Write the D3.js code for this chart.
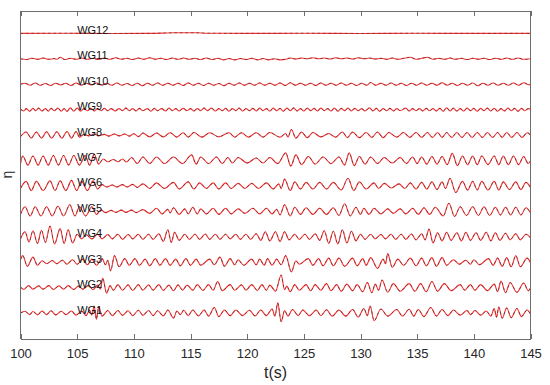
<!DOCTYPE html>
<html>
<head>
<meta charset="utf-8">
<script src="https://cdn.jsdelivr.net/npm/d3@7"></script>
<style>
  body { margin: 0; background: #fff; }
  text { font-family: "Liberation Sans", Arial, Helvetica, sans-serif; }
  .axis .domain, .axis line { stroke: #6e6e6e; shape-rendering: crispEdges; }
  .axis text { fill: #262626; font-size: 13px; }
</style>
</head>
<body>
<script>
// wave gauge records, [t (s), eta (cm)] at the crests and troughs
var gauges = ["WG1","WG2","WG3","WG4","WG5","WG6","WG7","WG8","WG9","WG10","WG11","WG12"];
var xTicks = [100,105,110,115,120,125,130,135,140,145];
var spacing = 5; // vertical offset between gauges (cm)

var wg1 = [[100.0,0.0],[100.4,0.35],[100.8,-0.3],[101.1,0.3],[101.5,-0.35],[101.9,0.4],[102.3,-0.3],[102.7,0.45],[103.1,-0.35],[103.6,0.35],[104.0,-0.3],[104.5,0.4],[104.9,-0.4],[105.4,0.35],[105.8,-0.5],[106.1,0.6],[106.3,-0.4],[106.5,1.4],[106.7,-1.2],[106.9,1.3],[107.2,-0.6],[107.7,0.5],[108.1,-0.5],[108.6,0.5],[109.0,-0.45],[109.5,0.45],[109.9,-0.5],[110.4,0.55],[110.8,-0.45],[111.3,0.5],[111.7,-0.5],[112.1,0.45],[112.6,-0.55],[113.0,0.6],[113.5,-1.0],[113.8,0.4],[114.1,-0.3],[114.4,0.55],[114.8,-0.5],[115.2,0.6],[115.7,-0.55],[116.2,0.6],[116.6,-0.6],[117.1,1.1],[117.5,-0.7],[118.0,0.6],[118.5,-0.5],[119.0,0.6],[119.6,-0.5],[120.2,0.55],[120.7,-0.55],[121.2,0.6],[121.7,-0.5],[122.2,0.8],[122.45,-0.6],[122.7,2.0],[123.0,-1.7],[123.3,0.5],[123.6,-0.6],[124.0,0.7],[124.5,-0.5],[124.9,0.6],[125.5,-0.5],[126.1,0.6],[126.5,-0.5],[127.0,0.65],[127.5,-0.6],[128.1,0.6],[128.7,-0.6],[129.3,0.7],[129.8,-0.8],[130.3,0.9],[130.6,-0.5],[130.85,1.4],[131.2,-1.5],[131.8,0.8],[132.4,-0.6],[133.2,0.7],[133.7,-0.6],[134.3,0.75],[134.7,-0.6],[135.1,0.7],[135.6,-0.7],[136.2,1.1],[136.7,-0.6],[137.2,0.7],[137.7,-0.5],[138.2,0.6],[138.8,-0.4],[139.4,0.5],[139.7,-0.3],[140.1,0.5],[140.6,-0.4],[141.1,0.4],[141.5,-0.6],[141.8,0.9],[142.0,-0.8],[142.2,1.2],[142.5,-1.0],[142.9,1.0],[143.3,-0.9],[143.8,0.9],[144.2,-0.7],[144.7,0.6],[145.0,-0.2]];

var wg2 = [[100.0,0.1],[100.3,-0.35],[100.7,0.4],[101.1,-0.3],[101.6,0.35],[102.0,-0.3],[102.5,0.4],[102.9,-0.35],[103.4,0.35],[103.8,-0.3],[104.2,0.4],[104.7,-0.35],[105.1,0.3],[105.5,-0.3],[106.0,0.45],[106.4,-0.4],[106.8,0.5],[107.05,-0.3],[107.25,1.9],[107.6,-1.1],[107.9,0.4],[108.2,-0.5],[108.6,0.6],[109.0,-0.5],[109.5,0.55],[109.9,-0.55],[110.4,0.6],[110.8,-0.5],[111.3,0.55],[111.7,-0.5],[112.2,0.6],[112.6,-0.55],[113.1,0.5],[113.5,-0.6],[113.9,0.55],[114.3,-0.5],[114.7,0.5],[115.2,-0.5],[115.6,0.6],[116.1,-0.55],[116.6,0.6],[117.0,-0.5],[117.4,1.2],[117.8,-0.6],[118.5,0.6],[118.9,-0.5],[119.5,0.55],[119.9,-0.5],[120.4,0.6],[120.9,-0.55],[121.3,0.6],[121.7,-0.5],[122.0,0.5],[122.5,-0.7],[123.0,2.5],[123.3,-0.4],[123.5,0.3],[123.8,-0.8],[124.2,0.6],[124.6,-0.5],[125.2,0.6],[125.6,-0.6],[126.0,0.6],[126.5,-0.5],[127.0,0.8],[127.4,-0.6],[127.9,0.6],[128.3,-0.7],[128.8,0.7],[129.3,-0.6],[129.7,0.6],[130.2,-0.8],[130.6,1.0],[131.0,-1.0],[131.3,0.7],[131.6,-0.5],[131.9,1.5],[132.4,-0.9],[132.9,0.8],[133.5,-0.7],[134.3,0.8],[134.8,-0.7],[135.3,0.8],[135.8,-0.8],[136.3,1.2],[136.8,-0.7],[137.4,0.8],[138.0,-0.6],[138.8,0.6],[139.2,-0.5],[139.7,0.6],[140.1,-0.5],[140.6,0.6],[141.2,-0.6],[141.8,0.7],[142.1,-0.8],[142.4,1.3],[142.8,-1.0],[143.2,1.0],[143.8,-0.9],[144.4,0.9],[144.8,-0.6],[145.0,0.0]];

var wg3 = [[100.0,0.5],[100.2,1.3],[100.6,-0.8],[101.1,1.0],[101.5,-0.6],[101.9,0.3],[102.3,-0.3],[102.8,0.35],[103.2,-0.3],[103.7,0.4],[104.1,-0.4],[104.6,0.5],[105.0,-0.4],[105.5,0.6],[105.9,-0.5],[106.3,0.6],[106.7,-0.6],[107.2,0.7],[107.5,-0.5],[107.7,0.4],[107.95,-1.7],[108.3,1.3],[108.7,-0.9],[109.2,0.7],[109.6,-0.6],[110.1,0.7],[110.5,-0.6],[111.0,0.6],[111.4,-0.7],[111.9,0.7],[112.3,-0.6],[112.8,0.7],[113.2,-0.6],[113.7,0.6],[114.1,-0.7],[114.6,0.7],[115.0,-0.6],[115.5,0.6],[115.9,-0.6],[116.7,0.6],[117.1,-0.5],[117.6,1.0],[118.0,-0.8],[118.5,0.7],[118.9,-0.5],[119.2,0.5],[119.7,-0.6],[120.4,0.6],[120.8,-0.5],[121.1,0.6],[121.5,-0.6],[121.8,0.7],[122.2,-0.6],[122.6,0.6],[123.0,-0.5],[123.4,1.3],[123.9,-1.9],[124.3,0.3],[124.6,-0.4],[125.4,0.7],[125.8,-0.6],[126.3,0.7],[126.7,-0.7],[127.2,0.8],[127.6,-0.7],[128.1,0.8],[128.6,-0.8],[129.3,0.8],[129.7,-0.7],[130.2,0.7],[130.5,-0.6],[130.9,0.9],[131.5,-1.2],[132.0,0.6],[132.2,-0.3],[132.4,1.7],[132.8,-1.0],[133.3,0.6],[133.8,-0.6],[134.4,0.8],[134.9,-0.7],[135.4,0.8],[135.8,-0.7],[136.3,0.9],[136.7,-0.8],[137.2,0.9],[137.6,-0.6],[138.2,0.5],[138.7,-0.4],[139.3,0.4],[139.7,-0.4],[140.0,0.5],[140.5,-0.5],[141.3,0.7],[141.7,-0.6],[142.1,0.8],[142.5,-0.8],[142.9,0.9],[143.3,-0.9],[143.7,1.3],[144.1,-0.9],[144.7,0.8],[145.0,-0.1]];

var wg4 = [[100.0,-0.4],[100.4,1.0],[100.75,-1.0],[101.1,1.2],[101.5,-1.3],[101.85,1.3],[102.2,-1.1],[102.6,2.1],[103.0,-1.4],[103.5,1.6],[103.85,-1.3],[104.2,1.4],[104.6,-1.2],[105.0,0.5],[105.4,-0.4],[105.8,0.4],[106.3,-0.4],[106.8,0.5],[107.2,-0.4],[107.7,0.45],[108.1,-0.4],[108.6,0.5],[109.0,-0.5],[109.5,0.45],[109.9,-0.4],[110.4,0.5],[110.8,-0.5],[111.3,0.5],[111.7,-0.5],[112.2,0.6],[112.6,-0.9],[113.0,1.4],[113.3,-1.1],[113.6,0.9],[114.0,-0.7],[114.5,0.5],[114.9,-0.5],[115.4,0.5],[115.8,-0.5],[116.3,0.55],[116.7,-0.5],[117.2,0.5],[117.6,-0.5],[118.1,0.5],[118.5,-0.4],[119.0,0.5],[119.4,-0.5],[119.9,0.5],[120.3,-0.5],[120.8,0.6],[121.2,-0.7],[121.6,1.0],[122.0,-0.8],[122.5,1.0],[122.9,-0.9],[123.3,1.0],[123.7,-0.6],[124.2,0.5],[124.6,-0.5],[125.1,0.5],[125.5,-0.5],[126.0,0.6],[126.4,-0.7],[126.8,1.2],[127.2,-1.3],[127.6,1.1],[128.0,-1.4],[128.4,1.4],[128.8,-1.2],[129.2,1.1],[129.6,-0.8],[130.0,0.5],[130.4,-0.5],[130.9,0.5],[131.3,-0.4],[131.8,0.45],[132.2,-0.4],[132.7,0.5],[133.1,-0.5],[133.6,0.5],[134.0,-0.5],[134.5,0.55],[134.9,-0.6],[135.4,0.6],[135.7,-0.6],[136.05,1.5],[136.4,-1.2],[136.8,0.8],[137.2,-0.8],[137.6,0.9],[138.0,-0.7],[138.5,0.8],[138.9,-0.8],[139.3,0.9],[139.7,-0.7],[140.2,0.8],[140.6,-0.7],[141.1,0.9],[141.5,-0.8],[141.9,0.8],[142.3,-0.7],[142.8,0.7],[143.2,-0.6],[143.7,0.6],[144.1,-0.6],[144.6,0.5],[145.0,-0.2]];

var wg5 = [[100.0,-0.6],[100.4,0.9],[100.85,-0.9],[101.3,0.9],[101.8,-0.9],[102.3,0.9],[102.8,-0.9],[103.3,1.0],[103.8,-0.9],[104.35,1.3],[104.8,-0.9],[105.2,0.9],[105.75,-0.9],[106.3,0.9],[106.7,-0.6],[107.1,0.3],[107.5,-0.25],[108.0,0.2],[108.4,-0.2],[108.9,0.25],[109.3,-0.2],[109.8,0.25],[110.2,-0.25],[110.8,0.35],[111.4,-0.4],[112.0,0.6],[112.5,-0.5],[113.0,0.4],[113.2,-0.3],[113.5,0.7],[114.0,-0.6],[114.5,0.5],[114.8,-0.5],[115.2,0.8],[115.6,-0.5],[115.9,0.5],[116.4,-0.5],[117.0,0.6],[117.5,-0.6],[118.1,0.6],[118.6,-0.5],[119.2,0.5],[119.8,-0.4],[120.5,0.6],[121.1,-0.5],[121.7,0.6],[122.2,-0.5],[122.6,0.4],[122.9,-0.7],[123.3,1.3],[123.8,-0.9],[124.2,0.8],[124.7,-0.6],[125.2,0.7],[125.8,-0.6],[126.4,0.6],[127.0,-0.6],[127.6,0.7],[128.1,-0.8],[128.6,1.5],[129.1,-0.9],[129.6,0.8],[130.0,-0.6],[130.3,0.6],[130.75,-0.6],[131.2,0.6],[131.8,-0.5],[132.4,0.5],[132.9,-0.4],[133.5,0.5],[134.0,-0.5],[134.6,0.6],[135.1,-0.6],[135.6,0.7],[136.1,-0.6],[136.6,0.8],[137.3,-0.9],[137.8,1.6],[138.3,-1.0],[138.8,0.9],[139.35,-0.8],[139.9,0.9],[140.4,-0.8],[140.9,0.9],[141.4,-0.8],[141.9,0.8],[142.35,-0.7],[142.8,0.8],[143.25,-0.7],[143.7,0.8],[144.15,-0.7],[144.6,0.7],[145.0,-0.3]];

var wg6 = [[100.0,-0.5],[100.5,0.9],[100.95,-0.9],[101.4,0.9],[102.0,-0.9],[102.6,1.0],[103.05,-0.9],[103.5,1.0],[104.0,-0.9],[104.5,1.1],[104.95,-0.9],[105.4,0.9],[105.9,-0.9],[106.4,1.0],[106.8,-0.6],[107.2,0.25],[107.6,-0.2],[108.1,0.2],[108.5,-0.2],[109.0,0.25],[109.4,-0.2],[109.9,0.3],[110.3,-0.3],[110.8,0.4],[111.4,-0.5],[112.0,0.6],[112.7,-0.5],[113.5,0.7],[114.0,-0.6],[114.8,0.8],[115.3,-0.6],[115.8,0.6],[116.4,-0.5],[117.0,0.6],[117.5,-0.6],[118.1,0.6],[118.6,-0.5],[119.2,0.5],[119.8,-0.5],[120.4,0.5],[121.0,-0.5],[121.7,0.6],[122.3,-0.6],[122.8,0.4],[123.0,-0.5],[123.3,1.35],[123.8,-0.9],[124.2,0.8],[124.7,-0.6],[125.2,0.7],[125.8,-0.6],[126.4,0.7],[127.0,-0.6],[127.6,0.7],[128.3,-0.8],[128.9,1.5],[129.4,-0.9],[129.9,0.8],[130.5,-0.6],[131.2,0.6],[131.6,-0.5],[132.1,0.5],[132.7,-0.4],[133.4,0.4],[133.9,-0.5],[134.4,0.6],[134.9,-0.6],[135.4,0.7],[135.85,-0.6],[136.3,0.8],[136.75,-0.7],[137.2,0.8],[137.5,-0.5],[137.9,1.5],[138.4,-1.3],[139.0,0.9],[139.45,-0.8],[139.9,0.9],[140.3,-0.8],[140.7,0.9],[141.25,-0.8],[141.8,0.9],[142.2,-0.8],[142.6,0.8],[143.15,-0.7],[143.7,0.8],[144.15,-0.7],[144.6,0.7],[145.0,-0.3]];

var wg7 = [[100.0,-0.6],[100.2,0.9],[100.65,-0.9],[101.1,0.9],[101.55,-0.9],[102.0,0.9],[102.45,-0.9],[102.9,1.0],[103.35,-0.9],[103.8,1.0],[104.25,-0.9],[104.7,1.0],[105.2,-0.9],[105.7,1.0],[106.1,-0.9],[106.5,1.2],[106.9,-0.7],[107.3,0.3],[107.7,-0.25],[108.2,0.2],[108.6,-0.25],[109.0,0.3],[109.35,-0.3],[109.8,0.6],[110.3,-0.6],[110.8,0.7],[111.4,-0.6],[112.0,0.7],[112.7,-0.6],[113.5,0.7],[114.3,-0.6],[115.1,1.1],[115.5,-0.7],[115.9,0.7],[116.6,-0.6],[117.3,0.7],[117.8,-0.6],[118.3,0.6],[118.7,-0.5],[119.2,0.6],[120.0,-0.5],[120.8,0.5],[121.4,-0.5],[122.0,0.6],[122.7,-0.6],[123.4,1.5],[123.85,-1.1],[124.3,1.1],[124.8,-0.8],[125.4,0.8],[126.0,-0.7],[126.7,0.7],[127.4,-0.6],[128.1,0.7],[128.6,-0.9],[129.0,1.5],[129.45,-1.0],[129.9,0.8],[130.4,-0.7],[130.9,0.7],[131.5,-0.6],[132.1,0.6],[132.8,-0.5],[133.5,0.6],[134.05,-0.6],[134.6,0.7],[135.0,-0.6],[135.4,0.7],[135.85,-0.7],[136.3,0.8],[136.75,-0.7],[137.2,0.8],[137.65,-0.8],[138.1,1.4],[138.55,-1.0],[139.0,0.9],[139.45,-0.8],[139.9,0.9],[140.3,-0.8],[140.7,0.9],[141.25,-0.8],[141.8,0.9],[142.2,-0.8],[142.6,0.9],[143.05,-0.8],[143.5,0.9],[143.95,-0.8],[144.4,0.8],[144.8,-0.6],[145.0,-0.1]];

var wg8 = [[100.0,-0.3],[100.5,0.6],[100.95,-0.6],[101.4,0.6],[101.85,-0.6],[102.3,0.65],[102.75,-0.6],[103.2,0.65],[103.65,-0.6],[104.1,0.7],[104.5,-0.6],[104.9,0.7],[105.2,-0.4],[105.6,0.15],[106.0,-0.15],[106.5,0.2],[106.9,-0.15],[107.4,0.15],[107.8,-0.2],[108.3,0.2],[108.7,-0.15],[109.2,0.2],[109.6,-0.2],[110.0,0.25],[110.4,-0.3],[110.8,0.4],[111.4,-0.35],[112.0,0.4],[112.6,-0.35],[113.2,0.45],[113.8,-0.4],[114.35,0.45],[114.8,-0.4],[115.3,0.5],[116.0,-0.4],[116.7,0.45],[117.5,-0.35],[118.4,0.45],[118.9,-0.4],[119.5,0.45],[120.1,-0.4],[120.8,0.45],[121.4,-0.4],[122.0,0.5],[122.9,-0.4],[123.4,0.3],[123.6,-0.4],[123.9,1.1],[124.3,-0.6],[124.8,0.6],[125.3,-0.5],[125.8,0.5],[126.5,-0.35],[127.2,0.3],[127.8,-0.4],[128.4,0.6],[128.85,-0.5],[129.3,0.6],[129.9,-0.5],[130.5,0.5],[131.0,-0.45],[131.5,0.6],[132.0,-0.5],[132.5,0.5],[133.2,-0.4],[133.8,0.5],[134.35,-0.45],[134.9,0.5],[135.4,-0.45],[135.9,0.5],[136.35,-0.45],[136.8,0.5],[137.2,-0.45],[137.6,0.5],[138.05,-0.45],[138.5,0.5],[138.95,-0.45],[139.4,0.5],[139.85,-0.45],[140.3,0.5],[140.75,-0.45],[141.2,0.5],[141.65,-0.45],[142.1,0.5],[142.5,-0.45],[142.9,0.5],[143.35,-0.45],[143.8,0.5],[144.25,-0.45],[144.7,0.45],[145.0,0.0]];

var wg9 = [[100.0,0.1],[100.3,-0.25],[100.5,0.2],[100.8,-0.3],[101.1,0.25],[101.35,-0.2],[101.6,0.3],[101.9,-0.25],[102.2,0.2],[102.45,-0.3],[102.7,0.25],[103.0,-0.2],[103.3,0.3],[103.6,-0.3],[103.85,0.2],[104.1,-0.35],[104.4,0.35],[104.7,-0.3],[105.0,0.3],[105.3,-0.25],[105.6,0.2],[105.9,-0.2],[106.2,0.25],[106.5,-0.25],[106.8,0.2],[107.1,-0.2],[107.4,0.25],[107.7,-0.2],[108.0,0.2],[108.35,-0.25],[108.7,0.2],[109.0,-0.2],[109.3,0.3],[109.6,-0.2],[109.9,0.2],[110.2,-0.25],[110.5,0.25],[110.8,-0.2],[111.2,0.2],[111.5,-0.3],[111.8,0.25],[112.1,-0.2],[112.45,0.2],[112.8,-0.25],[113.1,0.3],[113.4,-0.2],[113.7,0.2],[114.0,-0.25],[114.35,0.25],[114.7,-0.2],[115.0,0.2],[115.3,-0.25],[115.6,0.2],[115.9,-0.2],[116.2,0.3],[116.5,-0.2],[116.85,0.3],[117.2,-0.25],[117.5,0.2],[117.8,-0.2],[118.1,0.25],[118.4,-0.3],[118.7,0.2],[119.0,-0.2],[119.3,0.3],[119.6,-0.25],[119.9,0.2],[120.2,-0.2],[120.5,0.25],[120.8,-0.25],[121.1,0.3],[121.4,-0.2],[121.7,0.2],[122.0,-0.25],[122.3,0.3],[122.6,-0.2],[122.9,0.25],[123.2,-0.3],[123.5,0.3],[123.8,-0.2],[124.1,0.35],[124.4,-0.25],[124.7,0.2],[125.0,-0.25],[125.3,0.3],[125.6,-0.2],[125.9,0.25],[126.2,-0.25],[126.5,0.3],[126.8,-0.2],[127.1,0.2],[127.4,-0.25],[127.7,0.3],[128.0,-0.3],[128.3,0.25],[128.6,-0.2],[128.9,0.3],[129.2,-0.25],[129.5,0.25],[129.8,-0.2],[130.1,0.2],[130.4,-0.25],[130.8,0.35],[131.1,-0.25],[131.4,0.25],[131.7,-0.3],[132.0,0.2],[132.3,-0.2],[132.6,0.25],[132.9,-0.25],[133.2,0.2],[133.5,-0.2],[134.0,0.3],[134.3,-0.25],[134.6,0.2],[134.9,-0.2],[135.2,0.2],[135.5,-0.25],[135.8,0.25],[136.1,-0.2],[136.4,0.2],[136.7,-0.25],[137.0,0.25],[137.3,-0.3],[137.6,0.35],[137.9,-0.25],[138.2,0.3],[138.5,-0.25],[138.8,0.2],[139.1,-0.25],[139.4,0.3],[139.7,-0.2],[140.0,0.25],[140.3,-0.3],[140.6,0.25],[140.9,-0.2],[141.2,0.3],[141.5,-0.25],[141.8,0.25],[142.1,-0.3],[142.4,0.2],[142.7,-0.25],[143.0,0.3],[143.3,-0.2],[143.6,0.25],[143.9,-0.3],[144.2,0.25],[144.5,-0.2],[144.8,0.2],[145.0,0.0]];

var wg10 = [[100.0,0.0],[100.4,0.2],[100.85,-0.2],[101.3,0.25],[101.75,-0.2],[102.2,0.15],[102.65,-0.25],[103.1,0.2],[103.55,-0.15],[104.0,0.2],[104.45,-0.25],[104.9,0.25],[105.35,-0.2],[105.8,0.2],[106.25,-0.15],[106.7,0.25],[107.15,-0.2],[107.6,0.2],[108.05,-0.2],[108.5,0.25],[108.95,-0.2],[109.4,0.15],[109.85,-0.25],[110.3,0.2],[110.75,-0.3],[111.2,0.2],[111.65,-0.2],[112.1,0.25],[112.55,-0.2],[113.0,0.2],[113.45,-0.2],[113.9,0.2],[114.35,-0.25],[114.8,0.25],[115.25,-0.2],[115.7,0.2],[116.15,-0.25],[116.6,0.2],[117.05,-0.2],[117.5,0.15],[117.95,-0.3],[118.4,0.2],[118.85,-0.2],[119.3,0.25],[119.75,-0.2],[120.2,0.2],[120.65,-0.2],[121.1,0.25],[121.55,-0.2],[122.0,0.2],[122.45,-0.2],[122.9,0.25],[123.35,-0.25],[123.8,0.3],[124.25,-0.2],[124.7,0.2],[125.15,-0.2],[125.6,0.2],[126.05,-0.25],[126.5,0.25],[126.95,-0.2],[127.4,0.2],[127.85,-0.2],[128.3,0.25],[128.75,-0.2],[129.2,0.2],[129.65,-0.25],[130.1,0.2],[130.55,-0.2],[130.9,0.35],[131.35,-0.2],[131.8,0.2],[132.25,-0.2],[132.7,0.25],[133.15,-0.2],[133.6,0.2],[134.05,-0.25],[134.5,0.2],[134.95,-0.2],[135.4,0.25],[135.85,-0.2],[136.3,0.2],[136.75,-0.2],[137.2,0.3],[137.65,-0.2],[138.1,0.2],[138.55,-0.25],[139.0,0.2],[139.45,-0.2],[139.9,0.25],[140.35,-0.3],[140.8,0.2],[141.25,-0.2],[141.7,0.25],[142.15,-0.2],[142.6,0.2],[143.05,-0.2],[143.5,0.25],[143.95,-0.2],[144.4,0.3],[144.85,-0.1],[145.0,0.0]];

var wg11 = [[100.0,0.0],[100.5,-0.15],[101.0,0.1],[101.5,-0.1],[102.0,0.15],[102.5,-0.1],[103.0,0.05],[103.2,-0.1],[103.5,0.3],[103.9,-0.15],[104.4,0.1],[104.9,-0.1],[105.4,0.15],[105.9,-0.1],[106.4,0.1],[106.9,-0.15],[107.4,0.15],[107.9,-0.1],[108.4,0.2],[108.9,-0.1],[109.4,0.1],[109.9,-0.15],[110.4,0.15],[110.9,-0.1],[111.4,0.2],[111.9,-0.1],[112.4,0.1],[112.9,-0.15],[113.4,0.15],[113.9,-0.1],[114.4,0.15],[114.9,-0.1],[115.4,0.1],[115.9,-0.15],[116.4,0.15],[116.9,-0.15],[117.4,0.1],[117.9,-0.2],[118.4,0.05],[118.9,-0.2],[119.4,0.05],[119.9,-0.15],[120.4,0.1],[120.9,-0.2],[121.4,0.05],[121.9,-0.2],[122.4,0.0],[122.9,-0.2],[123.4,-0.1],[123.8,0.15],[124.3,-0.05],[124.8,0.15],[125.3,0.0],[125.8,0.2],[126.3,0.0],[126.8,0.15],[127.3,-0.05],[127.8,0.2],[128.3,0.0],[128.8,0.15],[129.3,-0.05],[129.8,0.2],[130.3,0.0],[130.8,0.15],[131.3,-0.05],[131.8,0.1],[132.3,-0.1],[132.8,0.15],[133.3,-0.1],[133.8,0.1],[134.4,0.3],[134.9,-0.1],[135.4,0.1],[135.9,0.3],[136.4,-0.1],[136.9,0.1],[137.4,-0.1],[137.9,0.15],[138.4,-0.1],[138.9,0.1],[139.4,-0.15],[139.9,0.1],[140.4,-0.1],[140.9,0.1],[141.4,-0.15],[141.9,0.1],[142.4,-0.1],[142.9,0.15],[143.4,-0.1],[143.9,0.15],[144.4,-0.1],[145.0,0.0]];

var wg12 = [[100.0,0.0],[104.0,0.02],[108.0,-0.02],[111.0,0.0],[112.5,0.05],[113.5,0.12],[115.5,0.12],[116.5,0.03],[120.0,0.0],[125.0,0.02],[130.0,-0.01],[135.0,0.02],[140.0,0.0],[145.0,0.01]];

var records = [wg1, wg2, wg3, wg4, wg5, wg6, wg7, wg8, wg9, wg10, wg11, wg12];

var margin = {top: 10.5, right: 19.5, bottom: 46.5, left: 20.5},
    width = 550 - margin.left - margin.right,
    height = 385 - margin.top - margin.bottom;

var x = d3.scaleLinear().domain([100, 145]).range([0, width]);
var y = d3.scaleLinear().domain([0, 64.5]).range([height, 0]);

var svg = d3.select("body").append("svg")
    .attr("width", 550)
    .attr("height", 385)
  .append("g")
    .attr("transform", "translate(" + margin.left + "," + margin.top + ")");

svg.append("clipPath").attr("id", "plot")
  .append("rect").attr("width", width).attr("height", height);

function gaugeLine(off) {
  return d3.line()
    .curve(d3.curveMonotoneX)
    .x(function(d) { return x(d[0]); })
    .y(function(d) { return y(d[1] + off); });
}

var traces = svg.append("g").attr("clip-path", "url(#plot)");

records.forEach(function(rec, i) {
  var off = (i + 1) * spacing;
  // measured (red, solid)
  traces.append("path")
      .datum(rec)
      .attr("fill", "none")
      .attr("stroke", "#ff3030")
      .attr("stroke-width", 1.1)
      .attr("d", gaugeLine(off));
  // numerical (black, dashed)
  traces.append("path")
      .datum(rec)
      .attr("fill", "none")
      .attr("stroke", "#333")
      .attr("stroke-width", 0.6)
      .attr("stroke-dasharray", "2.5,3")
      .attr("d", gaugeLine(off));
});

// gauge names
svg.selectAll(".wg")
    .data(gauges)
  .enter().append("text")
    .attr("class", "wg")
    .attr("x", x(105))
    .attr("y", function(d, i) { return y((i + 1) * spacing) + 0.5; })
    .style("font-size", "11px")
    .style("fill", "#111")
    .text(function(d) { return d; });

// box: ticks point inward on top and bottom
svg.append("g")
    .attr("class", "axis")
    .attr("transform", "translate(0," + height + ")")
    .call(d3.axisBottom(x).tickValues(xTicks).tickSizeInner(-5).tickSizeOuter(0).tickPadding(10));

svg.append("g")
    .attr("class", "axis")
    .call(d3.axisTop(x).tickValues(xTicks).tickSizeInner(-5).tickSizeOuter(0).tickFormat(""));

svg.append("line")
    .attr("x1", 0).attr("x2", 0).attr("y1", 0).attr("y2", height)
    .attr("stroke", "#6e6e6e").style("shape-rendering", "crispEdges");
svg.append("line")
    .attr("x1", width).attr("x2", width).attr("y1", 0).attr("y2", height)
    .attr("stroke", "#6e6e6e").style("shape-rendering", "crispEdges");

// axis labels
svg.append("text")
    .attr("x", width / 2)
    .attr("y", height + 39)
    .attr("text-anchor", "middle")
    .style("font-size", "16px")
    .style("fill", "#262626")
    .text("t(s)");

svg.append("text")
    .attr("transform", "translate(" + (-8.5) + "," + (height / 2) + ") rotate(-90)")
    .attr("text-anchor", "middle")
    .style("font-size", "14px")
    .style("fill", "#262626")
    .text("η");
</script>
</body>
</html>
